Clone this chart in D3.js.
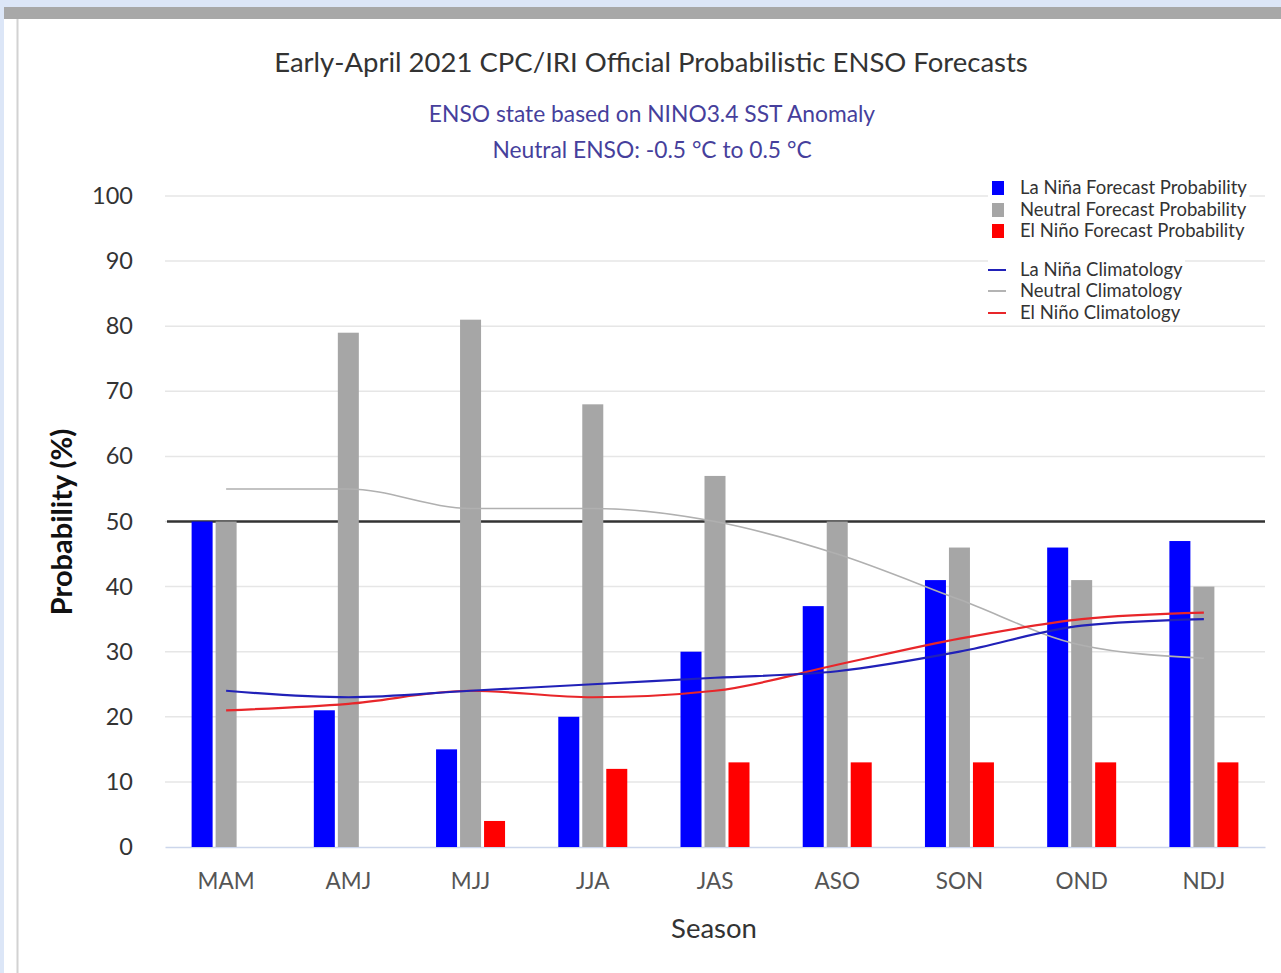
<!DOCTYPE html>
<html>
<head>
<meta charset="utf-8">
<script src="https://cdn.jsdelivr.net/npm/d3@7"></script>
<style>
  html, body { margin: 0; padding: 0; background: #ffffff; }
  svg { display: block; }
  text { font-family: Lato, "Open Sans", sans-serif; }
</style>
</head>
<body>
<script>
// ---- data ----
const seasons = ["MAM", "AMJ", "MJJ", "JJA", "JAS", "ASO", "SON", "OND", "NDJ"];
const laNinaProb  = [50, 21, 15, 20, 30, 37, 41, 46, 47];
const neutralProb = [50, 79, 81, 68, 57, 50, 46, 41, 40];
const elNinoProb  = [0, 0, 4, 12, 13, 13, 13, 13, 13];
const laNinaClim  = [24, 23, 24, 25, 26, 27, 30, 34, 35];
const neutralClim = [55, 55, 52, 52, 50, 45, 38, 31, 29];
const elNinoClim  = [21, 22, 24, 23, 24, 28, 32, 35, 36];
const yTicks = [0, 10, 20, 30, 40, 50, 60, 70, 80, 90, 100];
const seriesNames = ["La Niña Forecast Probability", "Neutral Forecast Probability", "El Niño Forecast Probability"];
const climNames = ["La Niña Climatology", "Neutral Climatology", "El Niño Climatology"];

const W = 1281, H = 973;
const svg = d3.select("body").append("svg").attr("width", W).attr("height", H);

// ---- frame ----
svg.append("rect").attr("x", 0).attr("y", 0).attr("width", W).attr("height", H).attr("fill", "#dce6f7");
svg.append("rect").attr("x", 4).attr("y", 7).attr("width", W - 4).attr("height", H - 7).attr("fill", "#ffffff");
svg.append("rect").attr("x", 4).attr("y", 7).attr("width", W - 4).attr("height", 12).attr("fill", "#a8a8a8");
svg.append("line").attr("x1", 17.5).attr("x2", 17.5).attr("y1", 19).attr("y2", H).attr("stroke", "#d2d2d2").attr("stroke-width", 2);

// ---- scales ----
const x = d3.scaleBand().domain(seasons).range([165, 1265]);
const keys = ["laNina", "neutral", "elNino"];
const xs = d3.scaleBand().domain(keys).range([-34.5, 34.5]).paddingInner(0.125);
const y = d3.scaleLinear().domain([0, 100]).range([847, 196]);
const cx = s => x(s) + x.bandwidth() / 2;

// ---- titles ----
svg.append("text").attr("x", 651).attr("y", 72).attr("text-anchor", "middle")
  .attr("font-size", 27.5).attr("fill", "#333333")
  .text("Early-April 2021 CPC/IRI Official Probabilistic ENSO Forecasts");
svg.append("text").attr("x", 652).attr("y", 122).attr("text-anchor", "middle")
  .attr("font-size", 22.8).attr("fill", "#463f9c")
  .text("ENSO state based on NINO3.4 SST Anomaly");
svg.append("text").attr("x", 652).attr("y", 158).attr("text-anchor", "middle")
  .attr("font-size", 22.8).attr("fill", "#463f9c")
  .text("Neutral ENSO: -0.5 °C to 0.5 °C");

// ---- grid ----
svg.append("g").selectAll("line").data(yTicks.filter(d => d > 0)).join("line")
  .attr("x1", 165).attr("x2", 1265)
  .attr("y1", d => y(d)).attr("y2", d => y(d))
  .attr("stroke", "#e6e6e6").attr("stroke-width", 1.5);

// x axis baseline
const xAxis = svg.append("g").attr("transform", `translate(0,${y(0)})`)
  .call(d3.axisBottom(x).tickSize(0).tickPadding(26));
xAxis.select(".domain").attr("stroke", "#ccd6eb").attr("stroke-width", 1.5);
xAxis.selectAll("text").attr("font-size", 22.5).attr("fill", "#555555")
  .attr("font-family", "Lato, 'Open Sans', sans-serif");

// y axis labels
const yAxis = svg.append("g").attr("transform", `translate(133,0)`)
  .call(d3.axisLeft(y).tickValues(yTicks).tickSize(0).tickPadding(0));
yAxis.select(".domain").remove();
yAxis.selectAll("text").attr("font-size", 23.5).attr("fill", "#333333")
  .attr("font-family", "Lato, 'Open Sans', sans-serif");

// axis titles
svg.append("text").attr("x", 714).attr("y", 938).attr("text-anchor", "middle")
  .attr("font-size", 27.5).attr("fill", "#333333").text("Season");
svg.append("text").attr("transform", "translate(72,522) rotate(-90)").attr("text-anchor", "middle")
  .attr("font-size", 29).attr("font-weight", "bold").attr("fill", "#111111").text("Probability (%)");

// ---- 50% reference line ----
svg.append("line").attr("x1", 167).attr("x2", 1265).attr("y1", y(50)).attr("y2", y(50))
  .attr("stroke", "#333333").attr("stroke-width", 2.5);

// ---- bars ----
const barColors = { laNina: "#0000ff", neutral: "#a6a6a6", elNino: "#ff0000" };
const barVals = { laNina: laNinaProb, neutral: neutralProb, elNino: elNinoProb };
keys.forEach(k => {
  svg.append("g").selectAll("rect").data(seasons).join("rect")
    .attr("x", (s) => cx(s) + xs(k))
    .attr("width", xs.bandwidth())
    .attr("y", (s, i) => y(barVals[k][i]))
    .attr("height", (s, i) => y(0) - y(barVals[k][i]))
    .attr("fill", barColors[k]);
});

// ---- climatology lines ----
const lineGen = d3.line().x(d => cx(d.s)).y(d => y(d.v)).curve(d3.curveMonotoneX);
const clim = [
  { vals: neutralClim, color: "#b0b0b0", w: 1.6 },
  { vals: elNinoClim, color: "#e8262a", w: 2.2 },
  { vals: laNinaClim, color: "#2121b8", w: 2.2 }
];
clim.forEach(c => {
  svg.append("path").datum(seasons.map((s, i) => ({ s, v: c.vals[i] })))
    .attr("d", lineGen).attr("fill", "none").attr("stroke", c.color).attr("stroke-width", c.w);
});

// ---- legend ----
const leg = svg.append("g");
const legSq = ["#0000ff", "#a6a6a6", "#ff0000"];
const legLn = ["#2121b8", "#b4b4b4", "#e8262a"];
const rowsTop = [188, 210, 231];
const rowsBot = [270, 291, 313];
seriesNames.forEach((n, i) => {
  const t = leg.append("text").attr("x", 1020).attr("y", rowsTop[i] + 6)
    .attr("font-size", 18.5).attr("fill", "#333333").text(n);
  const bb = t.node().getBBox();
  leg.insert("rect", "text").attr("x", 988).attr("y", rowsTop[i] - 10).attr("width", bb.x + bb.width - 986).attr("height", 20).attr("fill", "#ffffff");
  leg.append("rect").attr("x", 992).attr("y", rowsTop[i] - 7).attr("width", 12).attr("height", 14).attr("fill", legSq[i]);
});
climNames.forEach((n, i) => {
  const t = leg.append("text").attr("x", 1020).attr("y", rowsBot[i] + 6)
    .attr("font-size", 18.5).attr("fill", "#333333").text(n);
  const bb = t.node().getBBox();
  leg.insert("rect", "text").attr("x", 988).attr("y", rowsBot[i] - 10).attr("width", bb.x + bb.width - 986).attr("height", 20).attr("fill", "#ffffff");
  leg.append("line").attr("x1", 988).attr("x2", 1006).attr("y1", rowsBot[i]).attr("y2", rowsBot[i])
    .attr("stroke", legLn[i]).attr("stroke-width", 2);
});
</script>
</body>
</html>
